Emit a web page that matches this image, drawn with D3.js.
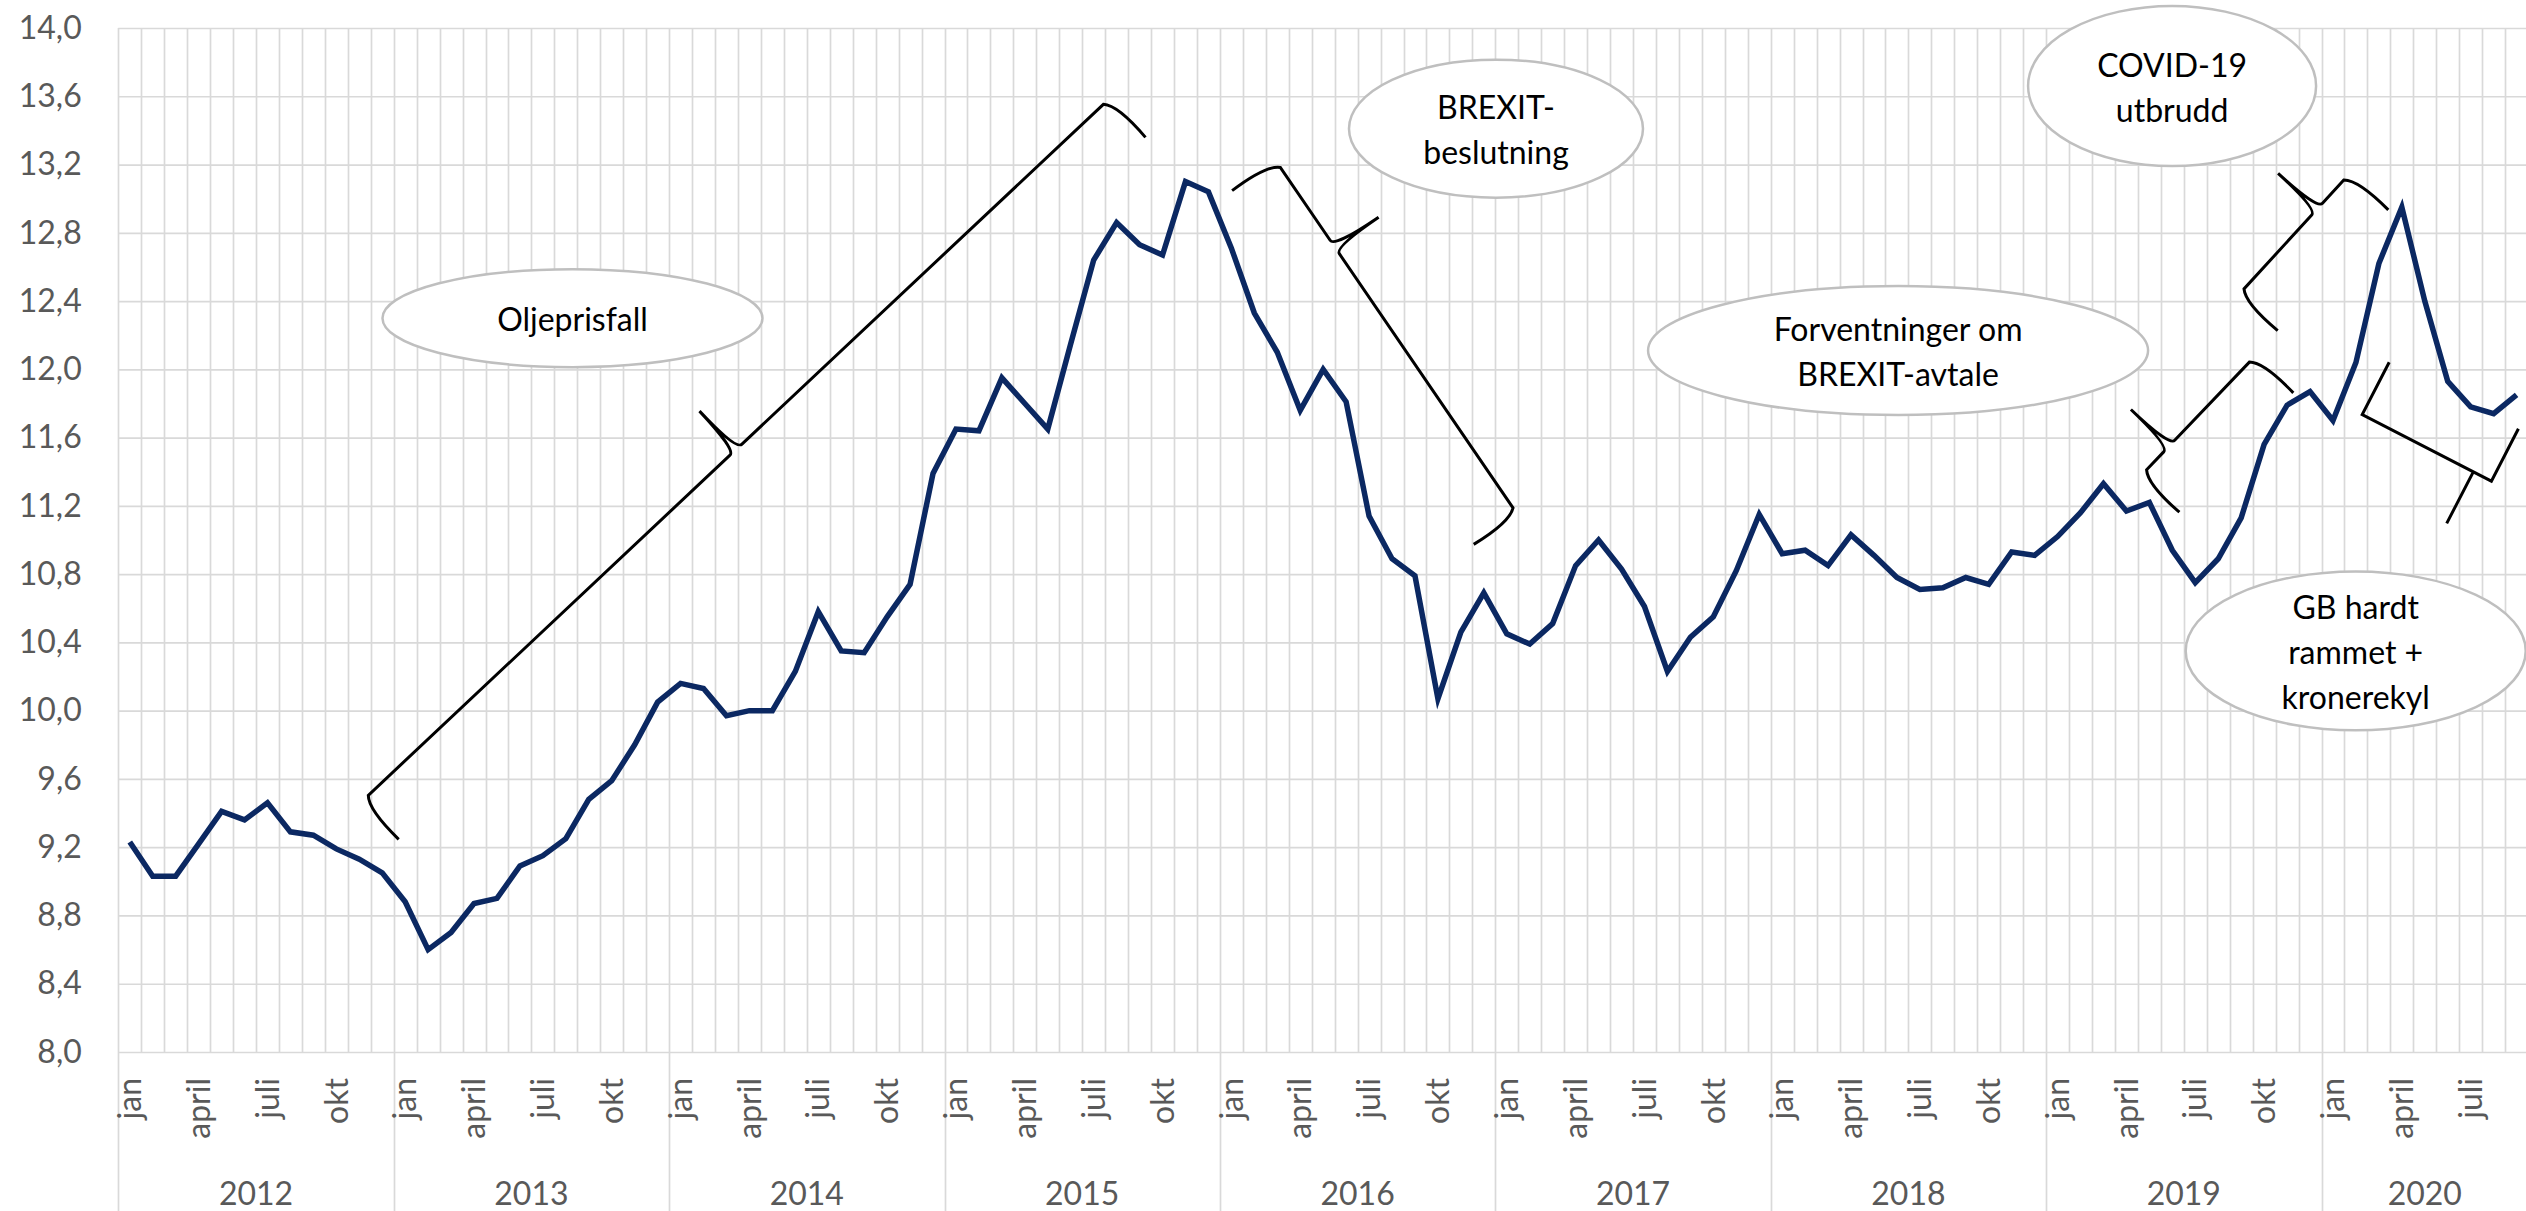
<!DOCTYPE html>
<html>
<head>
<meta charset="utf-8">
<script src="https://cdn.jsdelivr.net/npm/d3@7"></script>
<style>
  html, body { margin: 0; padding: 0; background: #fff; overflow: hidden; }
  svg { display: block; font-family: Lato, "Open Sans", sans-serif; }
</style>
</head>
<body>
<div id="vis"></div>
<script>
// kurs GBP/NOK, månedlig (lest av figuren)
const years = [2012, 2013, 2014, 2015, 2016, 2017, 2018, 2019, 2020]
const monthTicks = ['jan', 'april', 'juli', 'okt']   // hver 3. måned
const yTicks = [8.0, 8.4, 8.8, 9.2, 9.6, 10.0, 10.4, 10.8, 11.2, 11.6, 12.0, 12.4, 12.8, 13.2, 13.6, 14.0]

const nok2012 = [9.23, 9.03, 9.03, 9.22, 9.41, 9.36, 9.46, 9.29, 9.27, 9.19, 9.13, 9.05]
const nok2013 = [8.88, 8.60, 8.70, 8.87, 8.90, 9.09, 9.15, 9.25, 9.48, 9.59, 9.80, 10.05]
const nok2014 = [10.16, 10.13, 9.97, 10.00, 10.00, 10.23, 10.58, 10.35, 10.34, 10.55, 10.74, 11.39]
const nok2015 = [11.65, 11.64, 11.95, 11.80, 11.65, 12.15, 12.64, 12.86, 12.73, 12.67, 13.10, 13.04]
const nok2016 = [12.71, 12.33, 12.10, 11.76, 12.00, 11.81, 11.14, 10.89, 10.79, 10.07, 10.46, 10.69]
const nok2017 = [10.45, 10.39, 10.51, 10.85, 11.00, 10.83, 10.61, 10.23, 10.43, 10.55, 10.82, 11.15]
const nok2018 = [10.92, 10.94, 10.85, 11.03, 10.91, 10.78, 10.71, 10.72, 10.78, 10.74, 10.93, 10.91]
const nok2019 = [11.02, 11.16, 11.33, 11.17, 11.22, 10.94, 10.75, 10.89, 11.13, 11.56, 11.79, 11.87]
const nok2020 = [11.70, 12.04, 12.62, 12.95, 12.40, 11.93, 11.78, 11.74, 11.85]

// tekstbobler: tekst og sentrum (månedsnr fra jan 2012, kurs)
const bubbleText = [['Oljeprisfall'], ['BREXIT-', 'beslutning'], ['Forventninger om', 'BREXIT-avtale'],
                    ['COVID-19', 'utbrudd'], ['GB hardt', 'rammet +', 'kronerekyl']]
const bubbleAt = [[19.29, 12.30], [59.53, 13.41], [77.05, 12.11], [88.99, 13.66], [96.99, 10.35]]

// klammer: ende til ende (månedsnr, kurs), hvor spissen sitter langs klammen
const braceFrom = [[11.72, 9.246], [48.03, 13.047], [89.31, 11.163], [93.59, 12.227], [104.08, 11.652]]
const braceTo   = [[44.26, 13.359], [58.56, 10.974], [94.27, 11.862], [98.41, 12.934], [98.45, 12.042]]
const braceTip  = [0.5, 0.244, 0.247, 0.71, 0.14]
const braceKind = ['curly', 'curly', 'curly', 'curly', 'square']

const series = [].concat(nok2012, nok2013, nok2014, nok2015, nok2016, nok2017, nok2018, nok2019, nok2020)

const W = 2526, H = 1211
const nSlots = series.length
const left = 118.3, slotW = 22.95
const fontSize = 32

const svg = d3.select('#vis').append('svg')
    .attr('width', W)
    .attr('height', H)

const x = d3.scaleLinear().domain([0, nSlots]).range([left, left + nSlots * slotW])
const y = d3.scaleLinear().domain([8, 14]).range([1052, 28])

// y-akse med gridlinjer
const yAxis = d3.axisLeft(y)
    .tickValues(yTicks)
    .tickSize(-(W - left))
    .tickPadding(36.6)
    .tickFormat(d => d3.format('.1f')(d).replace('.', ','))

const gy = svg.append('g')
    .attr('transform', `translate(${left},0)`)
    .call(yAxis)
gy.select('.domain').remove()
gy.selectAll('.tick line').attr('stroke', '#d9d9d9').attr('stroke-width', 1.7)
gy.selectAll('.tick text')
    .attr('fill', '#595959')
    .style('font-size', fontSize + 'px')
    .style('font-family', 'Lato, sans-serif')

// vertikale linjer, en per måned; årsskiller går helt ned
svg.append('g').selectAll('line')
    .data(d3.range(0, nSlots + 1))
    .join('line')
    .attr('x1', k => Math.round(x(k)) + 0.5)
    .attr('x2', k => Math.round(x(k)) + 0.5)
    .attr('y1', y(14))
    .attr('y2', k => k % 12 === 0 ? H : y(8))
    .attr('stroke', '#d9d9d9')
    .attr('stroke-width', 1.7)

// månedsetiketter
const monthLab = []
years.forEach((yr, yi) => {
  monthTicks.forEach((m, mi) => {
    const idx = yi * 12 + mi * 3
    if (idx < nSlots) monthLab.push({ idx, m })
  })
})
svg.append('g').selectAll('text')
    .data(monthLab)
    .join('text')
    .attr('transform', d => `translate(${x(d.idx + 0.5)},1078) rotate(-90)`)
    .attr('dy', '0.35em')
    .attr('text-anchor', 'end')
    .attr('fill', '#595959')
    .style('font-size', fontSize + 'px')
    .text(d => d.m)

// årsetiketter
svg.append('g').selectAll('text')
    .data(years)
    .join('text')
    .attr('x', (yr, i) => x((i * 12 + Math.min(i * 12 + 12, nSlots)) / 2))
    .attr('y', 1205)
    .attr('text-anchor', 'middle')
    .attr('fill', '#595959')
    .style('font-size', fontSize + 'px')
    .text(d => d)

// kurslinjen
const line = d3.line()
    .x((d, i) => x(i + 0.5))
    .y(d => y(d))

svg.append('path')
    .datum(series)
    .attr('d', line)
    .attr('fill', 'none')
    .attr('stroke', '#0b2862')
    .attr('stroke-width', 5.5)
    .attr('stroke-linejoin', 'miter')

// klammer
function bracePath(p0, p1, tipF, kind) {
  const dx = p1[0] - p0[0], dy = p1[1] - p0[1]
  const L = Math.hypot(dx, dy)
  const u = [dx / L, dy / L]
  const n = [u[1], -u[0]]
  const P = (a, b) => [p0[0] + u[0] * a + n[0] * b, p0[1] + u[1] * a + n[1] * b].map(v => v.toFixed(1)).join(',')
  const f = tipF * L
  if (kind === 'square') {
    const d = 59, tl = 58
    return `M${P(0, 0)}L${P(0, d)}L${P(L, d)}L${P(L, 0)}M${P(f, d)}L${P(f, d + tl)}`
  }
  const d = 53, tl = 53, r = 8
  return `M${P(0, 0)}Q${P(-2, 0.8 * d)} ${P(r, d)}` +
         `L${P(f - r, d)}Q${P(f, d)} ${P(f, d + tl)}` +
         `Q${P(f, d)} ${P(f + r, d)}` +
         `L${P(L - r, d)}Q${P(L + 2, 0.8 * d)} ${P(L, 0)}`
}

svg.append('g').selectAll('path')
    .data(braceFrom)
    .join('path')
    .attr('d', (b, i) => bracePath([x(b[0] + 0.5), y(b[1])],
                                   [x(braceTo[i][0] + 0.5), y(braceTo[i][1])],
                                   braceTip[i], braceKind[i]))
    .attr('fill', 'none')
    .attr('stroke', '#000')
    .attr('stroke-width', 3)
    .attr('stroke-linejoin', 'miter')

// tekstbobler
const bubbleR = [[190, 49], [147, 69], [250, 64.5], [144, 80], [170, 79.4]]
const bubbles = svg.append('g').selectAll('g')
    .data(bubbleText)
    .join('g')
    .attr('transform', (t, i) => `translate(${x(bubbleAt[i][0] + 0.5)},${y(bubbleAt[i][1])})`)

bubbles.append('ellipse')
    .attr('rx', (t, i) => bubbleR[i][0])
    .attr('ry', (t, i) => bubbleR[i][1])
    .attr('fill', '#fff')
    .attr('stroke', '#bfbfbf')
    .attr('stroke-width', 2.5)

bubbles.append('text')
    .attr('text-anchor', 'middle')
    .attr('fill', '#000')
    .style('font-size', fontSize + 'px')
    .selectAll('tspan')
    .data(t => t.map((s, j) => ({ s, j, n: t.length })))
    .join('tspan')
    .attr('x', 0)
    .attr('y', d => 13 + (d.j - (d.n - 1) / 2) * 45)
    .text(d => d.s)
</script>
</body>
</html>
